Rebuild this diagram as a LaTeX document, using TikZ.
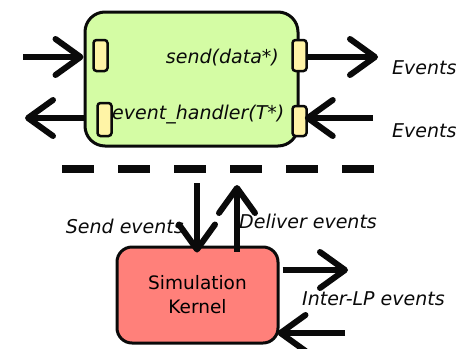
\documentclass[tikz,border=0pt]{standalone}
\usepackage{fontspec}
\setmainfont{DejaVu Sans}
\usetikzlibrary{arrows.meta}
\definecolor{lpgreen}{RGB}{212,252,164}
\definecolor{portyellow}{RGB}{255,244,166}
\definecolor{kernelred}{RGB}{255,128,122}
\definecolor{ink}{RGB}{10,10,10}
\tikzset{
  lpbox/.style={draw=ink, line width=3pt, fill=lpgreen, rounded corners=20pt,
    minimum width=213pt, minimum height=134pt, inner sep=0pt},
  kbox/.style={draw=ink, line width=3pt, fill=kernelred, rounded corners=15pt,
    minimum width=161pt, minimum height=96pt, inner sep=0pt, align=center,
    font=\fontsize{18.5}{24}\selectfont},
  port/.style={draw=ink, line width=2.5pt, fill=portyellow, rounded corners=3pt,
    minimum width=14pt, minimum height=31pt, inner sep=0pt},
  bigarrow/.style={draw=ink, line width=6pt,
    -{Straight Barb[length=25pt, width=36pt, round]}},
  lbl/.style={font=\fontsize{19}{22}\selectfont\itshape, text=ink, inner sep=0pt},
}
\begin{document}
\begin{tikzpicture}[x=1pt, y=-1pt]
\useasboundingbox (0,0) rectangle (470,348);

% logical process with its four ports
\node[lpbox] (lp) at (191.5,79) {};
\node[port] (p1) at (100.5,55.5) {};
\node[port] (p2) at (299.5,55.5) {};
\node[port, minimum height=33pt] (p3) at (104.5,119.5) {};
\node[port, minimum height=30pt] (p4) at (299.5,121) {};

\node[lbl, anchor=base east] (send) at (279,63) {send(data*)};
\node[lbl, anchor=base west] (handler) at (112,119) {event\_handler(T*)};

% port connectors
\coordinate (inL) at (23,57);
\coordinate (outL) at (25,118);
\coordinate (outR) at (378,57);
\coordinate (inR) at (373,118);
\draw[bigarrow] (inL) -- (lp.west |- inL);
\draw[bigarrow] (lp.west |- outL) -- (outL);
\draw[bigarrow] (p2.east |- outR) -- (outR);
\draw[bigarrow, shorten >=-3pt] (inR) -- (p4.east |- inR);

\node[lbl, anchor=base west] (ev1) at (392,74) {Events};
\node[lbl, anchor=base west] (ev2) at (392,137) {Events};

% boundary between model and kernel
\coordinate (dashA) at (62,169);
\coordinate (dashB) at (374,169);
\draw[ink, line width=8pt, dash pattern=on 32pt off 24pt] (dashA) -- (dashB);

% simulation kernel
\node[kbox] (kernel) at (197.5,295) {Simulation\\Kernel};

\node[lbl, anchor=base east] (sendev) at (184,233) {Send events};
\node[lbl, anchor=base west] (delev) at (239,228) {Deliver events};

\coordinate (sd) at (197,183);
\coordinate (du) at (237,185);
\draw[bigarrow] (sd) -- ([yshift=-7pt]kernel.north -| sd);
\draw[bigarrow] ([yshift=-6pt]kernel.north -| du) -- (du);

% inter-LP traffic
\coordinate (ilpOut) at (348,270);
\coordinate (ilpIn) at (345,333);
\draw[bigarrow] (kernel.east |- ilpOut) ++(3,0) -- (ilpOut);
\draw[bigarrow, shorten >=-2pt] (ilpIn) -- (kernel.east |- ilpIn);

\node[lbl, anchor=base west] (interlp) at (302,305) {Inter-LP events};
\end{tikzpicture}
\end{document}
